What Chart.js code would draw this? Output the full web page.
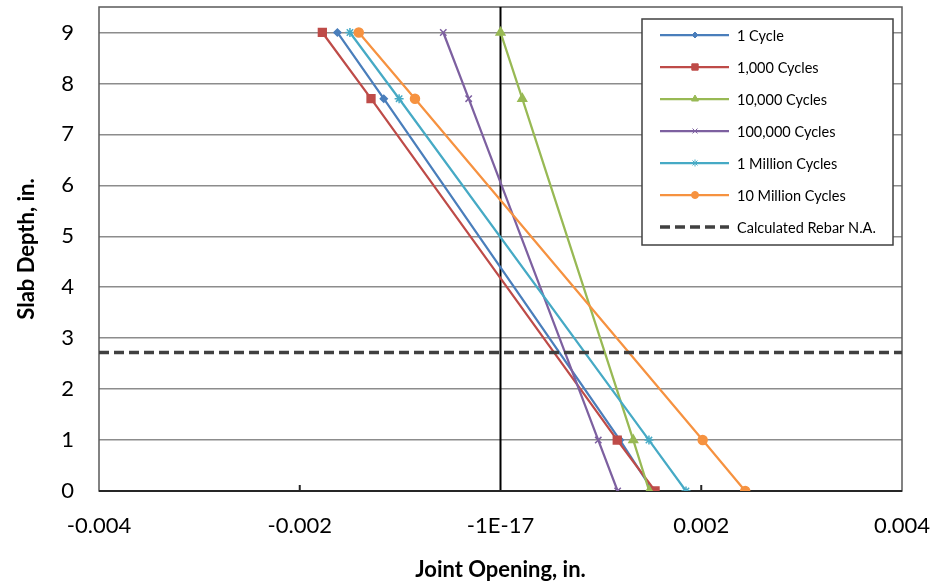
<!DOCTYPE html>
<html>
<head>
<meta charset="utf-8">
<script src="https://cdn.jsdelivr.net/npm/chart.js@4.4.0/dist/chart.umd.min.js"></script>
<style>
	html, body { margin: 0; padding: 0; background: #fff; }
	#wrap { width: 936px; height: 586px; }
</style>
</head>
<body>
<div id="wrap"><canvas id="chart" width="936" height="586"></canvas></div>
<script>
// slab depths where joint opening was measured (in.)
var depths = [9, 7.7, 1, 0];

// joint opening (in.) at each depth, per load-cycle count
var oneCycle        = [-0.001625, -0.001163, 0.00119, 0.00152];
var thousandCycles  = [-0.001775, -0.00129, 0.001163, 0.00154];
var tenThousand     = [0.0, 0.000217, 0.001323, 0.001482];
var hundredThousand = [-0.00057, -0.000317, 0.000974, 0.001167];
var oneMillion      = [-0.0015, -0.00101, 0.001479, 0.001848];
var tenMillion      = [-0.001412, -0.000852, 0.002014, 0.002438];

var seriesNames = ['1 Cycle', '1,000 Cycles', '10,000 Cycles', '100,000 Cycles', '1 Million Cycles', '10 Million Cycles'];

// calculated rebar neutral axis
var rebarName = 'Calculated Rebar N.A.';
var rebarDepth = 2.72;
var rebarX = [-0.004, 0.004];

var xTickLabels = ['-0.004', '-0.002', '-1E-17', '0.002', '0.004'];

var seriesValues = [oneCycle, thousandCycles, tenThousand, hundredThousand, oneMillion, tenMillion];
var colors = ['#4A7EBB', '#BE4B48', '#98B954', '#7D60A0', '#46AAC5', '#F69240'];
var markers = ['rectRot', 'rect', 'triangle', 'crossRot', 'star', 'circle'];
var markerSizes = [3.5, 5.5, 5, 4.5, 4.5, 4.5];

Chart.defaults.font.family = 'Lato, "Open Sans", sans-serif';
Chart.defaults.color = '#000';

function toPoints(xs) {
	return xs.map(function(x, i) { return { x: x, y: depths[i] }; });
}

var datasets = seriesValues.map(function(vals, i) {
	return {
		label: seriesNames[i],
		data: toPoints(vals),
		showLine: true,
		borderColor: colors[i],
		backgroundColor: colors[i],
		borderWidth: 2.25,
		pointStyle: markers[i],
		pointRadius: markerSizes[i],
		pointBorderWidth: 1.5,
		pointBorderColor: colors[i],
		pointBackgroundColor: colors[i],
		order: seriesValues.length + 1 - i,
	};
});

datasets.push({
	label: rebarName,
	data: rebarX.map(function(x) { return { x: x, y: rebarDepth }; }),
	showLine: true,
	borderColor: '#404040',
	borderWidth: 3.5,
	borderDash: [10, 5],
	pointRadius: 0,
	order: 0,
});

// frame, axis lines and inside tick marks
var framePlugin = {
	id: 'frame',
	beforeDatasetsDraw: function(chart) {
		var ctx = chart.ctx, a = chart.chartArea, xs = chart.scales.x;
		ctx.save();
		ctx.strokeStyle = '#5a5a5a';
		ctx.lineWidth = 1.5;
		ctx.strokeRect(a.left, a.top, a.right - a.left, a.bottom - a.top);
		ctx.strokeStyle = '#000';
		ctx.lineWidth = 2;
		var x0 = xs.getPixelForValue(0);
		ctx.beginPath();
		ctx.moveTo(x0, a.top);
		ctx.lineTo(x0, a.bottom);
		ctx.stroke();
		ctx.strokeStyle = '#262626';
		ctx.beginPath();
		ctx.moveTo(a.left, a.bottom);
		ctx.lineTo(a.right, a.bottom);
		[-0.002, 0.002].forEach(function(v) {
			var p = xs.getPixelForValue(v);
			ctx.moveTo(p, a.bottom);
			ctx.lineTo(p, a.bottom - 6);
		});
		ctx.stroke();
		ctx.restore();
	}
};

// boxed legend inside the plot, top right
var legendPlugin = {
	id: 'boxLegend',
	afterDatasetsDraw: function(chart) {
		var ctx = chart.ctx, a = chart.chartArea;
		var w = 251, h = 226;
		var x0 = a.right - 9 - w, y0 = a.top + 12;
		ctx.save();
		ctx.fillStyle = '#fff';
		ctx.fillRect(x0, y0, w, h);
		ctx.strokeStyle = '#404040';
		ctx.lineWidth = 1.5;
		ctx.strokeRect(x0, y0, w, h);
		ctx.font = '14.5px Lato, "Open Sans", sans-serif';
		ctx.textBaseline = 'middle';
		chart.data.datasets.forEach(function(ds, i) {
			var cy = y0 + 16 + i * 32;
			ctx.save();
			ctx.strokeStyle = ds.borderColor;
			ctx.lineWidth = ds.borderWidth;
			ctx.setLineDash(ds.borderDash || []);
			ctx.beginPath();
			ctx.moveTo(x0 + 18, cy);
			ctx.lineTo(x0 + 87, cy);
			ctx.stroke();
			ctx.restore();
			if (ds.pointRadius) {
				ctx.save();
				ctx.fillStyle = ds.pointBackgroundColor;
				ctx.strokeStyle = ds.pointBorderColor;
				ctx.lineWidth = 1;
				Chart.helpers.drawPoint(ctx, {
					pointStyle: ds.pointStyle,
					radius: Math.max(ds.pointRadius - 1, 3),
					rotation: 0,
					borderWidth: 1
				}, x0 + 53, cy);
				ctx.restore();
			}
			ctx.fillStyle = '#000';
			ctx.fillText(ds.label, x0 + 95, cy + 1);
		});
		ctx.restore();
	}
};

new Chart(document.getElementById('chart'), {
	type: 'scatter',
	data: { datasets: datasets },
	options: {
		responsive: false,
		animation: false,
		layout: { padding: { left: 0, right: 34, top: 6, bottom: 0 } },
		plugins: {
			legend: { display: false },
			tooltip: { enabled: false },
		},
		scales: {
			x: {
				type: 'linear',
				min: -0.004,
				max: 0.004,
				afterFit: function(scale) {
					scale.height = 95;
					scale.paddingLeft = 0;
					scale.paddingRight = 0;
				},
				ticks: {
					stepSize: 0.002,
					padding: 22,
					font: { size: 22 },
					maxRotation: 0,
					callback: function(v, i) { return xTickLabels[i]; },
				},
				grid: { display: false, drawTicks: false },
				border: { display: false },
				title: {
					display: true,
					text: 'Joint Opening, in.',
					font: { size: 22, weight: 'bold' },
					padding: { top: 0, bottom: 3 },
				},
			},
			y: {
				min: 0,
				max: 9.5,
				afterFit: function(scale) {
					scale.width = 99;
					scale.paddingTop = 0;
					scale.paddingBottom = 0;
				},
				afterBuildTicks: function(scale) {
					scale.ticks = scale.ticks.filter(function(t) { return Number.isInteger(t.value); });
				},
				ticks: {
					stepSize: 1,
					padding: 25,
					font: { size: 22 },
				},
				grid: {
					drawTicks: false,
					lineWidth: 1.5,
					color: function(c) { return c.tick && c.tick.value === 0 ? 'rgba(0,0,0,0)' : '#8c8c8c'; },
				},
				border: { display: false },
				title: {
					display: true,
					text: 'Slab Depth, in.',
					font: { size: 22, weight: 'bold' },
					padding: { top: 14, bottom: 0 },
				},
			},
		},
	},
	plugins: [framePlugin, legendPlugin],
});
</script>
</body>
</html>
